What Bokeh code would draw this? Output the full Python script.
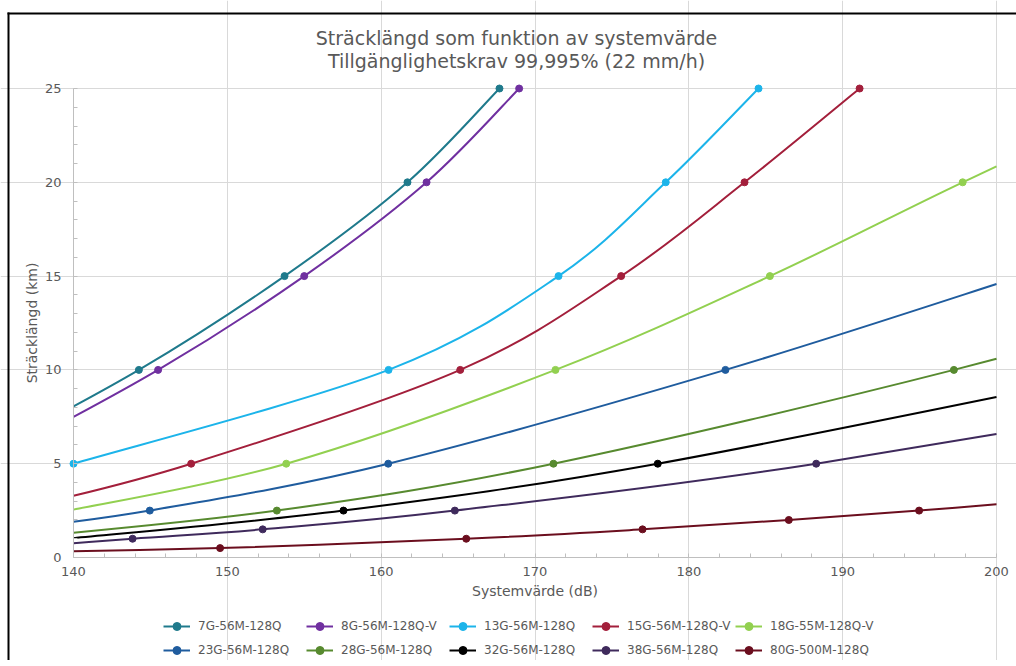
from bokeh.plotting import figure
from bokeh.models import (Label, Legend, LegendItem, Range1d, FixedTicker, ColumnDataSource,
                          BoxAnnotation)
from bokeh.embed import file_html
from bokeh.resources import INLINE

# ---------------- data ----------------
SERIES = ["7G-56M-128Q", "8G-56M-128Q-V", "13G-56M-128Q", "15G-56M-128Q-V", "18G-55M-128Q-V",
          "23G-56M-128Q", "28G-56M-128Q", "32G-56M-128Q", "38G-56M-128Q", "80G-500M-128Q"]
COLORS = ["#1F7A8C", "#7030A0", "#1CB4EA", "#A31F3B", "#92D050",
          "#1F5C9E", "#578A2F", "#000000", "#3F2A5C", "#6B0E1E"]

X_7G = [133.0, 144.25, 153.72, 161.71, 167.69]
Y_7G = [5, 10, 15, 20, 25]
X_8G = [134.3, 145.5, 155.0, 162.95, 168.97]
Y_8G = [5, 10, 15, 20, 25]
X_13G = [140.0, 160.48, 171.53, 178.5, 184.53]
Y_13G = [5, 10, 15, 20, 25]
X_15G = [136.0, 147.65, 165.14, 175.6, 183.62, 191.1]
Y_15G = [2.5, 5, 10, 15, 20, 25]
X_18G = [139.7, 153.83, 171.33, 185.27, 197.8, 211.0]
Y_18G = [2.5, 5, 10, 15, 20, 25]
X_23G = [135.8, 144.96, 160.46, 182.38, 201.6]
Y_23G = [1.5, 2.5, 5, 10, 15]
X_28G = [136.0, 153.22, 171.2, 197.23, 219.0]
Y_28G = [1.0, 2.5, 5, 10, 15]
X_32G = [139.6, 157.55, 177.98, 208.7]
Y_32G = [1.0, 2.5, 5, 10]
X_38G = [135.8, 143.84, 152.3, 164.79, 188.28, 224.0]
Y_38G = [0.5, 1.0, 1.5, 2.5, 5, 10]
X_80G = [134.5, 149.53, 165.53, 176.99, 186.5, 194.97, 202.4]
Y_80G = [0.25, 0.5, 1.0, 1.5, 2.0, 2.5, 3.0]

DATA_X = [X_7G, X_8G, X_13G, X_15G, X_18G, X_23G, X_28G, X_32G, X_38G, X_80G]
DATA_Y = [Y_7G, Y_8G, Y_13G, Y_15G, Y_18G, Y_23G, Y_28G, Y_32G, Y_38G, Y_80G]

X_MIN, X_MAX = 140, 200
Y_MIN, Y_MAX = 0, 25
X_TICKS = [140, 150, 160, 170, 180, 190, 200]
Y_TICKS = [0, 5, 10, 15, 20, 25]

TITLE_1 = "Sträcklängd som funktion av systemvärde"
TITLE_2 = "Tillgänglighetskrav 99,995% (22 mm/h)"
X_LABEL = "Systemvärde (dB)"
Y_LABEL = "Sträcklängd (km)"

FONT = "DejaVu Sans"
TEXT_COLOR = "#595959"

# page geometry: 140 dB at px 73, 200 dB at px 996; 0 km at px 557, 25 km at px 88
W, H = 1016, 660
PX_X = (996 - 73) / (X_MAX - X_MIN)
PX_Y = (557 - 88) / (Y_MAX - Y_MIN)


def dx(px):
    return X_MIN + (px - 73) / PX_X


def dy(py):
    return (557 - py) / PX_Y


def _bez(p, t):
    (x0, y0), (a, b), (c, d), (x1, y1) = p
    u = 1 - t
    return (u**3 * x0 + 3 * u * u * t * a + 3 * u * t * t * c + t**3 * x1,
            u**3 * y0 + 3 * u * u * t * b + 3 * u * t * t * d + t**3 * y1)


def _split(p, t):
    def lerp(a, b):
        return (a[0] + (b[0] - a[0]) * t, a[1] + (b[1] - a[1]) * t)
    p0, p1, p2, p3 = p
    q0, q1, q2 = lerp(p0, p1), lerp(p1, p2), lerp(p2, p3)
    r0, r1 = lerp(q0, q1), lerp(q1, q2)
    s = lerp(r0, r1)
    return (p0, q0, r0, s), (s, r1, q2, p3)


def _t_at_x(p, xv):
    lo, hi = 0.0, 1.0
    for _ in range(60):
        mid = (lo + hi) / 2
        if _bez(p, mid)[0] < xv:
            lo = mid
        else:
            hi = mid
    return (lo + hi) / 2


def smooth_segments(xs, ys, xmin, xmax):
    """Excel-style smoothed line: cubic Bezier segments through the data points,
    limited to the axis span [xmin, xmax]."""
    n = len(xs)
    d = dict(x0=[], y0=[], x1=[], y1=[], cx0=[], cy0=[], cx1=[], cy1=[])
    for i in range(n - 1):
        xm, ym = (xs[i - 1], ys[i - 1]) if i > 0 else (xs[i], ys[i])
        xp, yp = (xs[i + 2], ys[i + 2]) if i + 2 < n else (xs[i + 1], ys[i + 1])
        seg = ((xs[i], ys[i]),
               (xs[i] + (xs[i + 1] - xm) / 6.0, ys[i] + (ys[i + 1] - ym) / 6.0),
               (xs[i + 1] - (xp - xs[i]) / 6.0, ys[i + 1] - (yp - ys[i]) / 6.0),
               (xs[i + 1], ys[i + 1]))
        if seg[3][0] <= xmin or seg[0][0] >= xmax:
            continue
        if seg[0][0] < xmin:
            seg = _split(seg, _t_at_x(seg, xmin))[1]
        if seg[3][0] > xmax:
            seg = _split(seg, _t_at_x(seg, xmax))[0]
        (a, b), (c, e), (f, g), (h, k) = seg
        d["x0"].append(a); d["y0"].append(b)
        d["cx0"].append(c); d["cy0"].append(e)
        d["cx1"].append(f); d["cy1"].append(g)
        d["x1"].append(h); d["y1"].append(k)
    return d


# The frame covers the whole canvas; axes are pinned at x=140 / y=0 so that titles,
# axis texts and the legend under the x axis are all drawn inside it.
p = figure(width=W, height=H, title=None,
           x_range=Range1d(dx(0), dx(W)), y_range=Range1d(dy(H), dy(0)),
           output_backend="svg", toolbar_location=None,
           min_border_left=0, min_border_right=0, min_border_top=0, min_border_bottom=0)
p.outline_line_color = None
p.background_fill_color = "white"
p.border_fill_color = "white"

# chart-area border (black, only top and left edges are inside the window)
p.add_layout(BoxAnnotation(left=dx(7), right=dx(W), top=dy(12), bottom=dy(14),
                           fill_color="black", fill_alpha=1, line_alpha=0))
p.add_layout(BoxAnnotation(left=dx(7), right=dx(9), top=dy(12), bottom=dy(H),
                           fill_color="black", fill_alpha=1, line_alpha=0))

# axes
p.xaxis.ticker = FixedTicker(ticks=X_TICKS, minor_ticks=list(range(X_MIN, X_MAX + 1, 2)))
p.yaxis.ticker = FixedTicker(ticks=Y_TICKS, minor_ticks=list(range(Y_MIN, Y_MAX + 1)))
p.xaxis.fixed_location = Y_MIN
p.yaxis.fixed_location = X_MIN
p.xaxis.bounds = (X_MIN, X_MAX)
p.yaxis.bounds = (Y_MIN, Y_MAX)
for ax in (p.xaxis[0], p.yaxis[0]):
    ax.axis_line_color = "#bfbfbf"
    ax.major_tick_in = 0
    ax.major_tick_out = 0
    ax.minor_tick_in = 4
    ax.minor_tick_out = 0
    ax.minor_tick_line_color = "#bfbfbf"
    ax.major_label_text_font = FONT
    ax.major_label_text_font_size = "13px"
    ax.major_label_text_color = TEXT_COLOR
    ax.axis_label_text_font = FONT
    ax.axis_label_text_font_size = "14px"
    ax.axis_label_text_font_style = "normal"
    ax.axis_label_text_color = TEXT_COLOR
p.xaxis.axis_label = X_LABEL
p.yaxis.axis_label = Y_LABEL
p.xaxis.major_label_standoff = 9
p.xaxis.axis_label_standoff = 4
p.yaxis.major_label_standoff = 12
p.yaxis.axis_label_standoff = 2

p.xgrid.ticker = FixedTicker(ticks=X_TICKS[1:])
p.ygrid.ticker = FixedTicker(ticks=Y_TICKS[1:])
p.xgrid.grid_line_color = "#d9d9d9"
p.ygrid.grid_line_color = "#d9d9d9"
p.xgrid.bounds = (Y_MIN, Y_MAX)
p.ygrid.bounds = (X_MIN, X_MAX)

items = []
for name, color, xs, ys in zip(SERIES, COLORS, DATA_X, DATA_Y):
    seg = ColumnDataSource(smooth_segments(xs, ys, X_MIN, X_MAX))
    r_line = p.bezier(x0="x0", y0="y0", x1="x1", y1="y1", cx0="cx0", cy0="cy0",
                      cx1="cx1", cy1="cy1", source=seg, line_color=color, line_width=2)
    shown = [(x, y) for x, y in zip(xs, ys) if X_MIN <= x <= X_MAX]
    r_pts = p.scatter([x for x, _ in shown], [y for _, y in shown], marker="circle",
                      size=7, fill_color=color, line_color=color)
    items.append(LegendItem(label=name, renderers=[r_line, r_pts]))

legend = Legend(items=items, orientation="horizontal", ncols=5, location=(163, 0),
                glyph_width=27, glyph_height=20, label_height=20, label_width=104,
                label_standoff=8, spacing=4, padding=0, margin=0,
                border_line_color=None, background_fill_alpha=0,
                label_text_font=FONT, label_text_font_size="12px", label_text_color=TEXT_COLOR)
p.add_layout(legend, "center")

for text, py in ((TITLE_1, 37), (TITLE_2, 60)):
    p.add_layout(Label(x=dx(516), y=dy(py), text=text, text_align="center",
                       text_baseline="middle", text_font=FONT, text_font_size="19px",
                       text_color=TEXT_COLOR))

open("out.html", "w").write(file_html(p, INLINE))
